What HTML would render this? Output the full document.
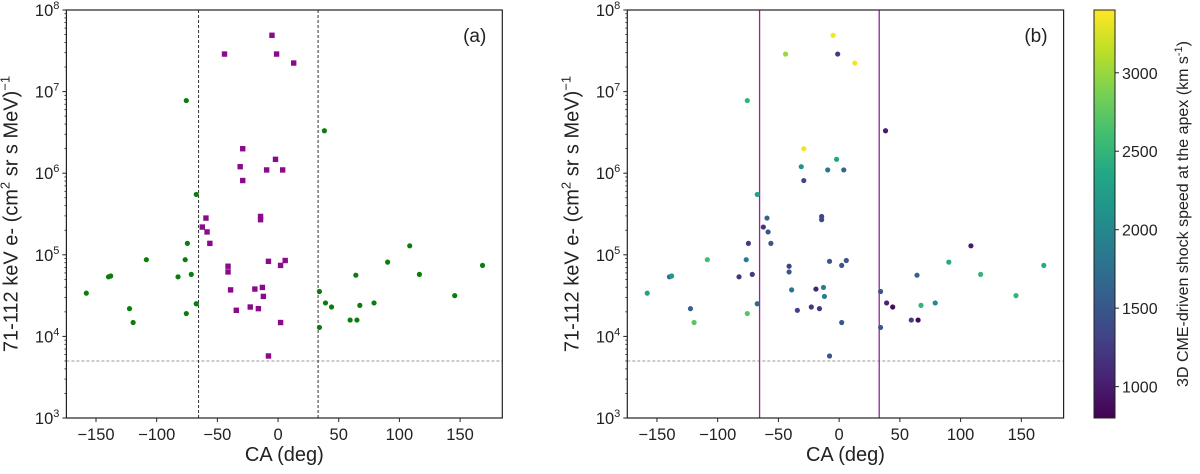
<!DOCTYPE html>
<html><head><meta charset="utf-8"><style>
body{margin:0;background:#fff;}
svg text{font-family:"Liberation Sans","DejaVu Sans",sans-serif;fill:#222;}
</style></head><body>
<svg id="chart" width="1200" height="469" viewBox="0 0 1200 469" xmlns="http://www.w3.org/2000/svg">
<defs>
<linearGradient id="vir" x1="0" y1="1" x2="0" y2="0">
<stop offset="0" stop-color="#440154"/><stop offset="0.1" stop-color="#482475"/><stop offset="0.2" stop-color="#414487"/><stop offset="0.3" stop-color="#355f8d"/><stop offset="0.4" stop-color="#2a788e"/><stop offset="0.5" stop-color="#21918c"/><stop offset="0.6" stop-color="#22a884"/><stop offset="0.7" stop-color="#44bf70"/><stop offset="0.8" stop-color="#7ad151"/><stop offset="0.9" stop-color="#bddf26"/><stop offset="1" stop-color="#fde725"/>
</linearGradient>
</defs>
</svg>
<script>
// Green (outside) events: angle, flux
const greenCA = [-158,-139.7,-137.9,-122.4,-119.4,-108.5,-82.4,-76.5,-75.6,-75.6,-74.7,-71.5,-67.4,-67.4,34.1,34.1,38.2,39.1,44.1,59.4,64.1,65,67.4,79.1,90.3,108.5,116.5,145.6,168.5];
const greenLogFlux = [4.53,4.73,4.74,4.34,4.17,4.94,4.73,4.94,4.28,6.89,5.14,4.76,5.74,4.40,4.55,4.11,6.52,4.41,4.36,4.20,4.75,4.20,4.38,4.41,4.91,5.11,4.76,4.50,4.87];
const greenSpeed = [2300,1700,2200,1600,2700,2600,1200,1900,2700,2500,1250,1250,2300,1700,1500,1500,1000,1050,900,1250,1600,850,2500,2000,2400,1000,2500,2500,2400];
// Purple (inside) events
const purpleCA = [-44.1,-5,-1.2,12.9,-29.1,-31.2,-29.1,-2.1,-9.4,3.8,-59.4,-62.4,-58.5,-56.2,-14.4,-14.4,-41.2,-41.2,-7.9,5.9,2.1,-39.1,-19.1,-12.9,-12.1,-22.9,-34.4,-16.2,2.1,-7.9];
const purpleLogFlux = [7.46,7.69,7.46,7.35,6.30,6.08,5.91,6.17,6.04,6.04,5.45,5.34,5.28,5.14,5.47,5.43,4.86,4.79,4.92,4.93,4.87,4.57,4.58,4.60,4.49,4.36,4.32,4.34,4.17,3.76];
const purpleSpeed = [3000,3350,1250,3350,3350,2100,1350,2300,1800,1650,1650,1200,1500,1500,1350,1350,1300,1500,1500,1500,1500,1800,1050,1900,1900,1200,1300,1200,1500,1500];
const xTicks = [-150,-100,-50,0,50,100,150];
const xTickLabels = ["\u2212150","\u2212100","\u221250","0","50","100","150"];
const yDecades = [3,4,5,6,7,8];
const cbTicks = [1000,1500,2000,2500,3000];
const vLines = [-65.5,33];
const hLineLog = Math.log10(5000);

const NS="http://www.w3.org/2000/svg";
const svg=document.getElementById('chart');
function el(tag,attrs,parent){const e=document.createElementNS(NS,tag);for(const k in attrs)e.setAttribute(k,attrs[k]);(parent||svg).appendChild(e);return e;}
const TOP=10,BOT=418,XMIN=-174.4,XMAX=184.8,YMIN=3,YMAX=8;
function yS(v){return BOT-(v-YMIN)/(YMAX-YMIN)*(BOT-TOP);}
const vir=[[68,1,84],[72,36,117],[65,68,135],[53,95,141],[42,120,142],[33,145,140],[34,168,132],[68,191,112],[122,209,81],[189,223,38],[253,231,37]];
function cmap(s){let t=(s-800)/2600;t=Math.max(0,Math.min(1,t))*10;const i=Math.min(9,Math.floor(t)),f=t-i;const a=vir[i],b=vir[i+1];return `rgb(${a.map((c,k)=>Math.round(c+(b[k]-c)*f)).join(',')})`;}

function panel(L,R,label,colored){
  const g=el('g',{});
  
  
  const xS=v=>L+(v-XMIN)/(XMAX-XMIN)*(R-L);
  const hl=el('line',{x1:L,x2:R,y1:yS(hLineLog),y2:yS(hLineLog),stroke:'#999','stroke-width':1,'stroke-dasharray':'3,2'},g);
  
  
  vLines.forEach(v=>{const l=el('line',{x1:xS(v),x2:xS(v),y1:TOP,y2:BOT,stroke:colored?'#9b1fa0':'#333','stroke-width':colored?1.3:1,'stroke-dasharray':colored?'none':'3,2'},g);
    
    });
  greenCA.forEach((x,i)=>{const c=el('circle',{cx:xS(x),cy:yS(greenLogFlux[i]),r:2.6,fill:colored?cmap(greenSpeed[i]):'#0a7d0a'},g);
    
    });
  purpleCA.forEach((x,i)=>{let m;if(colored){m=el('circle',{cx:xS(x),cy:yS(purpleLogFlux[i]),r:2.6,fill:cmap(purpleSpeed[i])},g);}
    else{m=el('rect',{x:xS(x)-2.7,y:yS(purpleLogFlux[i])-2.7,width:5.4,height:5.4,fill:'#8b0a8b'},g);}
    
    });
  const fr=el('rect',{x:L,y:TOP,width:R-L,height:BOT-TOP,fill:'none',stroke:'#222','stroke-width':1.2},g);
  
  
  xTicks.forEach((t,i)=>{const x=xS(t);el('line',{x1:x,x2:x,y1:BOT,y2:BOT+4,stroke:'#222'},g);
    const tx=el('text',{x:x,y:BOT+22,'font-size':16.5,'text-anchor':'middle'},g);tx.textContent=xTickLabels[i];
    
    });
  yDecades.forEach(d=>{const y=yS(d);el('line',{x1:L-4,x2:L,y1:y,y2:y,stroke:'#222'},g);
    const tx=el('text',{x:L-7,y:y+6,'font-size':16.5,'text-anchor':'end'},g);tx.textContent='10';
    const sp=el('tspan',{dy:-7,'font-size':11},tx);sp.textContent=String(d);
    
    
    if(d<8){for(let k=2;k<10;k++){const yy=yS(d+Math.log10(k));el('line',{x1:L-2,x2:L,y1:yy,y2:yy,stroke:'#222','stroke-width':0.8},g);}}});
  const xl=el('text',{x:(L+R)/2,y:461,'font-size':20,'text-anchor':'middle'},g);xl.textContent='CA (deg)';
  
  
  const yl=el('text',{transform:`translate(${L-49},${(TOP+BOT)/2}) rotate(-90)`,'font-size':20,'text-anchor':'middle'},g);
  yl.innerHTML='71-112 keV e- (cm<tspan dy="-8" font-size="13">2</tspan><tspan dy="8"> sr s MeV)</tspan><tspan dy="-8" font-size="13">\u22121</tspan>';
  
  
  const pl=el('text',{x:R-16,y:42,'font-size':19,'text-anchor':'end'},g);pl.textContent=label;
  
  
}
panel(66.4,502.3,'(a)',false);
panel(627.3,1063.6,'(b)',true);

const CBL=1094,CBR=1115;
const cb=el('rect',{x:CBL,y:TOP,width:CBR-CBL,height:BOT-TOP,fill:'url(#vir)',stroke:'#222','stroke-width':1});


const cbY=v=>BOT-(v-800)/2600*(BOT-TOP);
cbTicks.forEach(t=>{const y=cbY(t);el('line',{x1:CBR,x2:CBR+4,y1:y,y2:y,stroke:'#222'});
  const tx=el('text',{x:CBR+7,y:y+6,'font-size':16},svg);tx.textContent=String(t);
  
  });
const cl=el('text',{transform:`translate(1188,${(TOP+BOT)/2}) rotate(-90)`,'font-size':16,'text-anchor':'middle'});
cl.innerHTML='3D CME-driven shock speed at the apex  (km s<tspan dy="-6" font-size="11">-1</tspan><tspan dy="6">)</tspan>';


</script>
</body></html>
